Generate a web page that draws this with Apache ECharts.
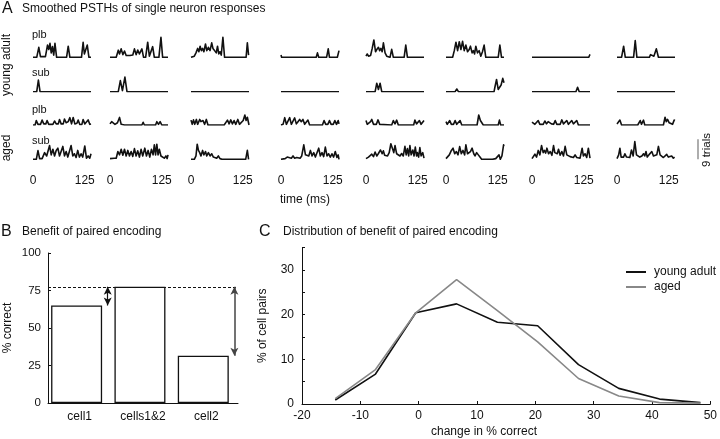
<!DOCTYPE html>
<html><head><meta charset="utf-8">
<script src="https://cdn.jsdelivr.net/npm/echarts@6/dist/echarts.min.js"></script>
<style>html,body{margin:0;padding:0;background:#fff}#c{width:720px;height:439px}</style>
</head><body><div id="c"></div>
<script>
// ---------- Panel A data: smoothed PSTHs, [time ms, trials] ----------
const rowNames = ['plb', 'sub', 'plb', 'sub'];
const groupNames = ['young adult', 'aged'];
const timeTicks = [0, 125];
const scaleBarTrials = 9;

const psthYoungPlb = [
  [[0,0],[9,0],[14,4.5],[18,0.3],[30,0.3],[35,5.5],[38,3.5],[41,6.3],[44,2],[47,4.8],[50,1],[53,6.3],[57,0],[81,0],[85,5],[89,0],[117,0],[121,6.7],[124,1.5],[127,2],[131,5.5],[135,0],[140,0]],
  [[0,0],[15,0],[20,3.2],[23,1.5],[27,3.8],[31,1.2],[35,2.8],[39,0.8],[48,0.8],[55,1],[59,3.8],[63,1.2],[67,3.3],[71,1.5],[77,3.8],[81,0],[86,0],[91,6.8],[95,0.5],[99,0.5],[103,4.8],[107,0],[118,0],[123,9],[127,0],[140,0]],
  [[0,0],[4,0.8],[8,0.5],[12,2],[16,4],[19,2.5],[22,5],[25,3],[28,4],[31,2.5],[35,6],[38,3],[42,4.5],[46,3],[50,6.5],[53,4],[57,3],[61,2],[64,5],[67,1.5],[70,2.5],[73,1],[77,9],[81,0],[133,0],[136,6.5],[139,1],[140,1]],
  [[0,1],[1.5,0],[85,0],[88,2],[91,0],[110,0],[114,3.8],[117,0],[136,0],[140,3]],
  [[0,0.5],[3,1.5],[6,0.5],[11,0.8],[15,4],[19,7.8],[23,2.5],[26,3.5],[30,4.5],[33,3],[36,4],[39,2.5],[42,6.5],[46,2],[50,0.5],[54,0],[58,0],[62,3.6],[66,0],[92,0],[96,5.5],[100,0],[140,0]],
  [[0,0],[16,0],[20,3],[24,6.8],[28,3],[32,7],[36,3.5],[40,7.2],[44,3],[48,5.5],[52,2.5],[56,3.5],[59,5],[63,2],[66,3],[69,1.5],[72,5],[76,2],[80,3],[84,0.5],[88,2.5],[92,5.5],[96,0],[126,0],[130,5.5],[134,0],[140,0]],
  [[0,0],[137,0],[140,1.3]],
  [[0,0],[11,0],[16,5],[20,0],[40,0],[44,7.5],[48,0],[78,0],[81,1.2],[84,0.5],[89,0.5],[95,3.8],[100,0],[140,0]]
];
const psthYoungSub = [
  [[0,0],[9,0],[13,5.2],[17,0],[140,0]],
  [[0,0],[20,0],[25,5],[30,0.5],[36,6.6],[41,0],[140,0]],
  [[0,0],[140,0]],
  [[0,0],[140,0]],
  [[0,0],[22,0],[26,3.8],[30,1],[34,3.8],[38,0],[140,0]],
  [[0,0],[22,0],[26,1.2],[30,0],[116,0],[118,2],[122,5.5],[126,1],[130,0.3],[133,3],[137,6],[140,4]],
  [[0,0],[106,0],[110,2],[114,0],[140,0]],
  [[0,0],[140,0]]
];
const psthAgedPlb = [
  [[0,0],[5,0],[8,2],[12,0.3],[18,0.3],[22,2.2],[26,0.5],[31,0.5],[34,2],[38,0.3],[48,0.3],[52,1.8],[56,0.5],[61,0.5],[64,2.5],[68,0.5],[73,0.5],[76,2.7],[80,1],[85,1.5],[89,3.3],[93,0.5],[97,3.4],[101,0.5],[106,0.8],[109,2.2],[113,0.2],[118,0.3],[121,2.5],[125,0.5],[129,0.5],[133,2.3],[137,0.3],[140,0.5]],
  [[0,0.5],[4,1.5],[8,1.5],[12,0.3],[18,1],[23,3.4],[27,0.3],[35,0],[77,0],[80,1.2],[83,0],[110,0],[113,1.5],[117,0.3],[121,1.5],[125,0],[140,0]],
  [[0,2.2],[3,0.3],[6,2.3],[9,0.3],[13,2.5],[16,0.3],[21,2.5],[24,1.5],[29,2],[33,0.3],[37,2.5],[41,0],[80,0],[84,0.3],[88,2.2],[92,0.5],[96,2.3],[100,0.5],[104,2],[108,0.3],[113,2.5],[117,0.3],[121,0.3],[126,2],[130,4.5],[133,2],[136,3.5],[140,0]],
  [[0,0],[5,0.3],[9,3.3],[13,0.3],[17,0.3],[21,3.3],[25,0.3],[29,0.3],[33,3.2],[37,0.5],[41,1.5],[45,2.5],[49,1.5],[53,2.5],[57,0.3],[61,0.5],[65,2.2],[69,0],[100,0],[104,2],[108,0.3],[113,0.3],[117,2],[121,0.3],[126,0.3],[130,2],[134,0.3],[138,2],[140,0.5]],
  [[0,2],[3,0.3],[7,0.3],[11,1.5],[14,2.5],[18,0.3],[25,0.3],[29,2.3],[33,0.3],[37,0],[62,0],[66,2],[70,0.5],[74,2.2],[78,0],[115,0],[118,2.2],[122,0.5],[126,1],[129,2],[133,0.3],[137,0.3],[140,2]],
  [[0,1.5],[3,0.3],[6,0.3],[9,2],[13,0.3],[18,0.3],[22,2],[26,0.3],[30,0.3],[34,2],[38,0],[75,0],[79,4.5],[83,2],[86,2.5],[90,0],[126,0],[129,2.2],[132,0],[140,0]],
  [[0,1.3],[3,2],[7,0.3],[11,0.3],[15,2],[19,0.3],[27,0.3],[31,1.8],[35,0.5],[39,1.5],[43,2.2],[47,0.5],[52,0.3],[56,2],[60,0.3],[68,0.3],[72,2.3],[76,0.5],[80,0.3],[84,2],[88,0.3],[92,0.3],[96,2],[100,0.5],[104,1.2],[108,2],[112,0],[140,0]],
  [[0,0.5],[3,0.3],[7,2.2],[11,0],[50,0],[53,0.3],[56,2],[59,0.3],[61,0.5],[64,2.2],[67,0],[112,0],[116,3.5],[119,1.5],[122,2.5],[126,1],[130,0.3],[134,0.3],[138,2.2],[140,2]]
];
const psthAgedSub = [
  [[0,0],[8,0],[12,3.9],[16,0.3],[22,0.3],[28,3],[33,1.5],[40,6.2],[44,2],[48,4.5],[52,1.5],[56,4],[60,5],[64,1.5],[68,2],[72,5.8],[76,1.5],[80,3.5],[84,1],[88,1.5],[92,6.2],[96,1.5],[100,2.5],[104,0.8],[108,4],[112,1],[116,2.5],[120,1],[125,6],[129,0.5],[133,1.5],[137,0.5],[140,2.5]],
  [[0,0.3],[10,0.5],[15,0.5],[19,3.5],[23,2],[27,4.5],[31,1.8],[35,4.5],[39,1.5],[43,4],[47,1.5],[51,3.5],[55,1.3],[59,4.8],[63,1.5],[67,3.8],[71,1],[75,4.5],[79,1.5],[84,5],[88,1.5],[92,4],[96,1],[100,4.5],[104,2],[107,6.5],[110,2],[113,6.8],[116,2],[119,4.5],[123,1.5],[127,2],[131,0.5],[135,1.5],[138,0.3],[140,2]],
  [[0,0],[8,0],[12,1.5],[15,6.8],[18,4],[21,3],[24,1.5],[28,4],[31,2],[35,3.5],[38,1.5],[42,3],[46,1.5],[50,2.5],[54,1],[58,1.5],[62,0.5],[66,1.5],[70,0.3],[75,0],[132,0],[136,4],[139,0],[140,0]],
  [[0,0],[10,0.3],[15,1],[19,0.3],[25,0.5],[29,1.5],[33,0.5],[38,0.8],[42,1.2],[46,0.5],[50,1.5],[55,6.5],[59,2],[63,2.5],[67,1.5],[71,4],[75,1.5],[79,3],[83,1],[87,0.8],[91,5],[95,1.5],[99,3],[103,1.2],[107,5.5],[111,1.5],[115,2.5],[119,1],[123,2.5],[127,1],[131,3.5],[135,0.8],[138,2],[140,0]],
  [[0,0.3],[6,1],[10,0.3],[14,2.3],[18,1.2],[22,3.3],[26,1.5],[30,2.6],[35,4.2],[39,2.5],[42,3.8],[45,1.8],[48,2.6],[52,1.5],[56,3],[60,7],[64,4.8],[67,3],[70,6.2],[74,2.5],[78,3.3],[82,1.5],[86,2.6],[90,1.5],[94,5.8],[97,2],[100,4.8],[103,1.5],[106,6.2],[109,2],[113,4.2],[116,1.5],[119,5.5],[122,1.5],[124,3],[127,1],[130,5.3],[133,1.5],[137,3],[140,0.5]],
  [[0,0.3],[4,0.5],[8,2],[13,4],[17,5],[21,2.5],[25,3.5],[29,2],[33,5.7],[37,2.5],[41,4],[45,2],[48,6.5],[52,2.5],[55,2],[59,3.5],[63,5],[67,2.5],[70,1.5],[74,3],[78,2],[82,1],[86,0],[112,0],[116,0.8],[120,0.3],[124,0.3],[128,2],[131,0],[135,1.5],[139,6.5],[140,6]],
  [[0,0.3],[4,0.8],[7,2.3],[11,1],[15,4],[19,2],[23,6.2],[27,3],[30,4],[33,2.8],[36,5],[40,2.5],[44,3.5],[48,1.8],[52,6.2],[55,3],[58,3.8],[61,2.5],[64,4.5],[68,1.8],[72,3.5],[76,1.5],[80,5.8],[84,2],[88,1.5],[92,1.2],[96,1.8],[100,0.8],[104,2],[108,0.8],[112,1.2],[116,0.5],[121,5],[124,1.5],[128,2.5],[132,0.8],[136,5],[140,0.5]],
  [[0,0.3],[4,2],[7,5],[10,1],[13,1.5],[16,1],[19,2.5],[23,1],[27,1.8],[31,0.8],[35,4.2],[39,1.5],[43,8],[47,2],[51,2.5],[55,1],[60,1.5],[64,2.5],[67,1.5],[70,3.5],[73,1],[77,2],[81,1.5],[84,3.5],[88,1.5],[92,1.5],[96,2],[100,5.8],[104,2],[108,1.2],[112,0.8],[116,1.5],[120,2.2],[124,1],[128,0.8],[132,1.5],[136,0.5],[139,1],[140,0.8]]
];

// ---------- Panel B data ----------
const barCategories = ['cell1', 'cells1&2', 'cell2'];
const barValues = [65, 77.5, 31.5];
const pairedLevel = 77.5;

// ---------- Panel C data ----------
const changeBins = [-14.3, -7.4, -0.5, 6.5, 13.5, 20.4, 27.4, 34.3, 41.3, 48.3];
const youngAdultPct = [0.9, 6.7, 20.4, 22.4, 18.3, 17.5, 8.8, 3.5, 1.1, 0.3];
const agedPct = [1.2, 7.7, 20.4, 27.8, 20.9, 13.9, 5.7, 1.8, 0.3, 0.2];

// ---------- layout ----------
const FONT = '"Liberation Sans", Arial, Helvetica, sans-serif';
const INK = '#111';
const colLeft = [33, 110, 191, 281, 366, 446, 532, 617];
const rowBase = [57.3, 91.7, 125, 159.3];
const traceW = 58, PX_PER_TRIAL = 20 / 9, YMAX = 12;
const H = YMAX * PX_PER_TRIAL;

const grids = [], xAxes = [], yAxes = [], series = [];
const rows = [psthYoungPlb, psthYoungSub, psthAgedPlb, psthAgedSub];
rows.forEach((row, r) => row.forEach((trace, c) => {
  const i = grids.length;
  grids.push({ left: colLeft[c], top: rowBase[r] - H, width: traceW, height: H });
  xAxes.push({ gridIndex: i, type: 'value', min: 0, max: 140, interval: 125,
    axisLine: { show: false, onZero: false }, axisTick: { show: false }, splitLine: { show: false },
    axisLabel: { show: r === 3, margin: 15, fontSize: 12, color: INK, fontFamily: FONT,
      formatter: v => timeTicks.includes(v) ? String(v) : '' } });
  yAxes.push({ gridIndex: i, type: 'value', min: 0, max: YMAX, show: false });
  series.push({ type: 'line', xAxisIndex: i, yAxisIndex: i, data: trace, symbol: 'none',
    lineStyle: { color: INK, width: 1.6, join: 'round' }, silent: true });
}));

// scale bar
{
  const i = grids.length;
  grids.push({ left: 697, top: rowBase[3] - H, width: 2, height: H });
  xAxes.push({ gridIndex: i, type: 'value', min: -1, max: 1, show: false });
  yAxes.push({ gridIndex: i, type: 'value', min: 0, max: YMAX, show: false });
  series.push({ type: 'line', xAxisIndex: i, yAxisIndex: i, data: [[0, 0], [0, scaleBarTrials]],
    symbol: 'none', lineStyle: { color: '#777', width: 1.2 }, silent: true });
}

// Panel B
const gB = grids.length;
grids.push({ left: 48, top: 253, width: 190, height: 150 });
xAxes.push({ gridIndex: gB, type: 'category', data: barCategories,
  axisLine: { onZero: false, lineStyle: { color: INK, width: 1 } }, axisTick: { show: false },
  axisLabel: { margin: 8, fontSize: 12, color: INK, fontFamily: FONT } });
yAxes.push({ gridIndex: gB, type: 'value', min: 0, max: 100, interval: 25,
  axisLine: { show: true, onZero: false, lineStyle: { color: INK, width: 1 } },
  axisTick: { show: true, inside: true, length: 3, lineStyle: { color: INK } },
  splitLine: { show: false },
  axisLabel: { margin: 7, fontSize: 11.5, color: INK, fontFamily: FONT },
  name: '% correct', nameLocation: 'middle', nameGap: 34, nameRotate: 90,
  nameTextStyle: { fontSize: 12, color: INK, fontFamily: FONT } });
series.push({ type: 'bar', xAxisIndex: gB, yAxisIndex: gB, data: barValues, barWidth: 51,
  itemStyle: { color: '#fff', borderColor: INK, borderWidth: 1.3 }, silent: true,
  markLine: { silent: true, symbol: ['none', 'none'], label: { show: false },
    lineStyle: { color: INK, width: 1.1, type: [3, 2] },
    data: [{ yAxis: pairedLevel }] } });
series.push({ type: 'bar', xAxisIndex: gB, yAxisIndex: gB, data: [], silent: true,
  markLine: { silent: true, symbol: ['arrow', 'arrow'], symbolSize: [6, 8], label: { show: false },
    data: [
      [{ coord: [0, barValues[0]], lineStyle: { color: INK, width: 1.2, type: 'solid' } }, { coord: [0, pairedLevel] }],
      [{ coord: [2, barValues[2]], lineStyle: { color: '#444', width: 1.5, type: 'solid' } }, { coord: [2, pairedLevel] }]
    ] } });

// Panel C
const gC = grids.length;
grids.push({ left: 302, top: 404 - 35 * 4.47, width: 411, height: 35 * 4.47 });
xAxes.push({ gridIndex: gC, type: 'value', min: -20, max: 50, interval: 10,
  axisLine: { onZero: false, lineStyle: { color: INK, width: 1 } },
  axisTick: { show: true, inside: true, length: 3, lineStyle: { color: INK } },
  splitLine: { show: false },
  axisLabel: { margin: 6, fontSize: 12, color: INK, fontFamily: FONT } });
yAxes.push({ gridIndex: gC, type: 'value', min: 0, max: 35, interval: 5,
  axisLine: { show: true, onZero: false, lineStyle: { color: INK, width: 1 } },
  axisTick: { show: true, inside: true, length: 3, lineStyle: { color: INK } },
  splitLine: { show: false },
  axisLabel: { margin: 8, fontSize: 12, color: INK, fontFamily: FONT, formatter: v => v % 10 === 0 ? String(v) : '' },
  name: '% of cell pairs', nameLocation: 'middle', nameGap: 33, nameRotate: 90,
  nameTextStyle: { fontSize: 12, color: INK, fontFamily: FONT } });
series.push({ name: 'young adult', type: 'line', xAxisIndex: gC, yAxisIndex: gC,
  data: changeBins.map((x, k) => [x, youngAdultPct[k]]), symbol: 'none',
  lineStyle: { color: '#111', width: 1.6 }, itemStyle: { color: '#111' }, silent: true });
series.push({ name: 'aged', type: 'line', xAxisIndex: gC, yAxisIndex: gC,
  data: changeBins.map((x, k) => [x, agedPct[k]]), symbol: 'none',
  lineStyle: { color: '#888', width: 1.6 }, itemStyle: { color: '#888' }, silent: true });

// texts
const txt = (text, x, y, size, opts = {}) => Object.assign({
  type: 'text', x, y, rotation: opts.rot || 0, silent: true,
  style: { text, x: 0, y: 0, fill: INK, font: `${size}px ${FONT}`,
    textAlign: opts.align || 'left', textVerticalAlign: 'middle' } });
const graphics = [
  txt('A', 2, 8.5, 16), txt('Smoothed PSTHs of single neuron responses', 22, 9, 12),
  txt('B', 1, 232, 16), txt('Benefit of paired encoding', 22, 232, 12),
  txt('C', 259, 232, 16), txt('Distribution of benefit of paired encoding', 283, 232, 12),
  txt(rowNames[0], 32, 35, 11), txt(rowNames[1], 32, 73, 11),
  txt(rowNames[2], 32, 110, 11), txt(rowNames[3], 32, 141, 11),
  txt(groupNames[0], 7, 65, 12, { rot: Math.PI / 2, align: 'center' }),
  txt(groupNames[1], 7, 148, 12, { rot: Math.PI / 2, align: 'center' }),
  txt('time (ms)', 305, 200, 12, { align: 'center' }),
  txt(scaleBarTrials + ' trials', 707, 150, 11.5, { rot: Math.PI / 2, align: 'center' }),
  txt('change in % correct', 484, 432, 12, { align: 'center' })
];

const chart = echarts.init(document.getElementById('c'), null, { renderer: 'canvas' });
chart.setOption({
  animation: false,
  backgroundColor: '#fff',
  grid: grids, xAxis: xAxes, yAxis: yAxes, series,
  legend: { data: [{ name: 'young adult', icon: 'rect' }, { name: 'aged', icon: 'rect' }],
    orient: 'vertical', left: 621, top: 261,
    itemWidth: 20, itemHeight: 2, itemGap: 3, selectedMode: false,
    textStyle: { fontSize: 12, color: INK, fontFamily: FONT, padding: [0, 0, 0, 3] } },
  graphic: graphics
});
</script></body></html>
